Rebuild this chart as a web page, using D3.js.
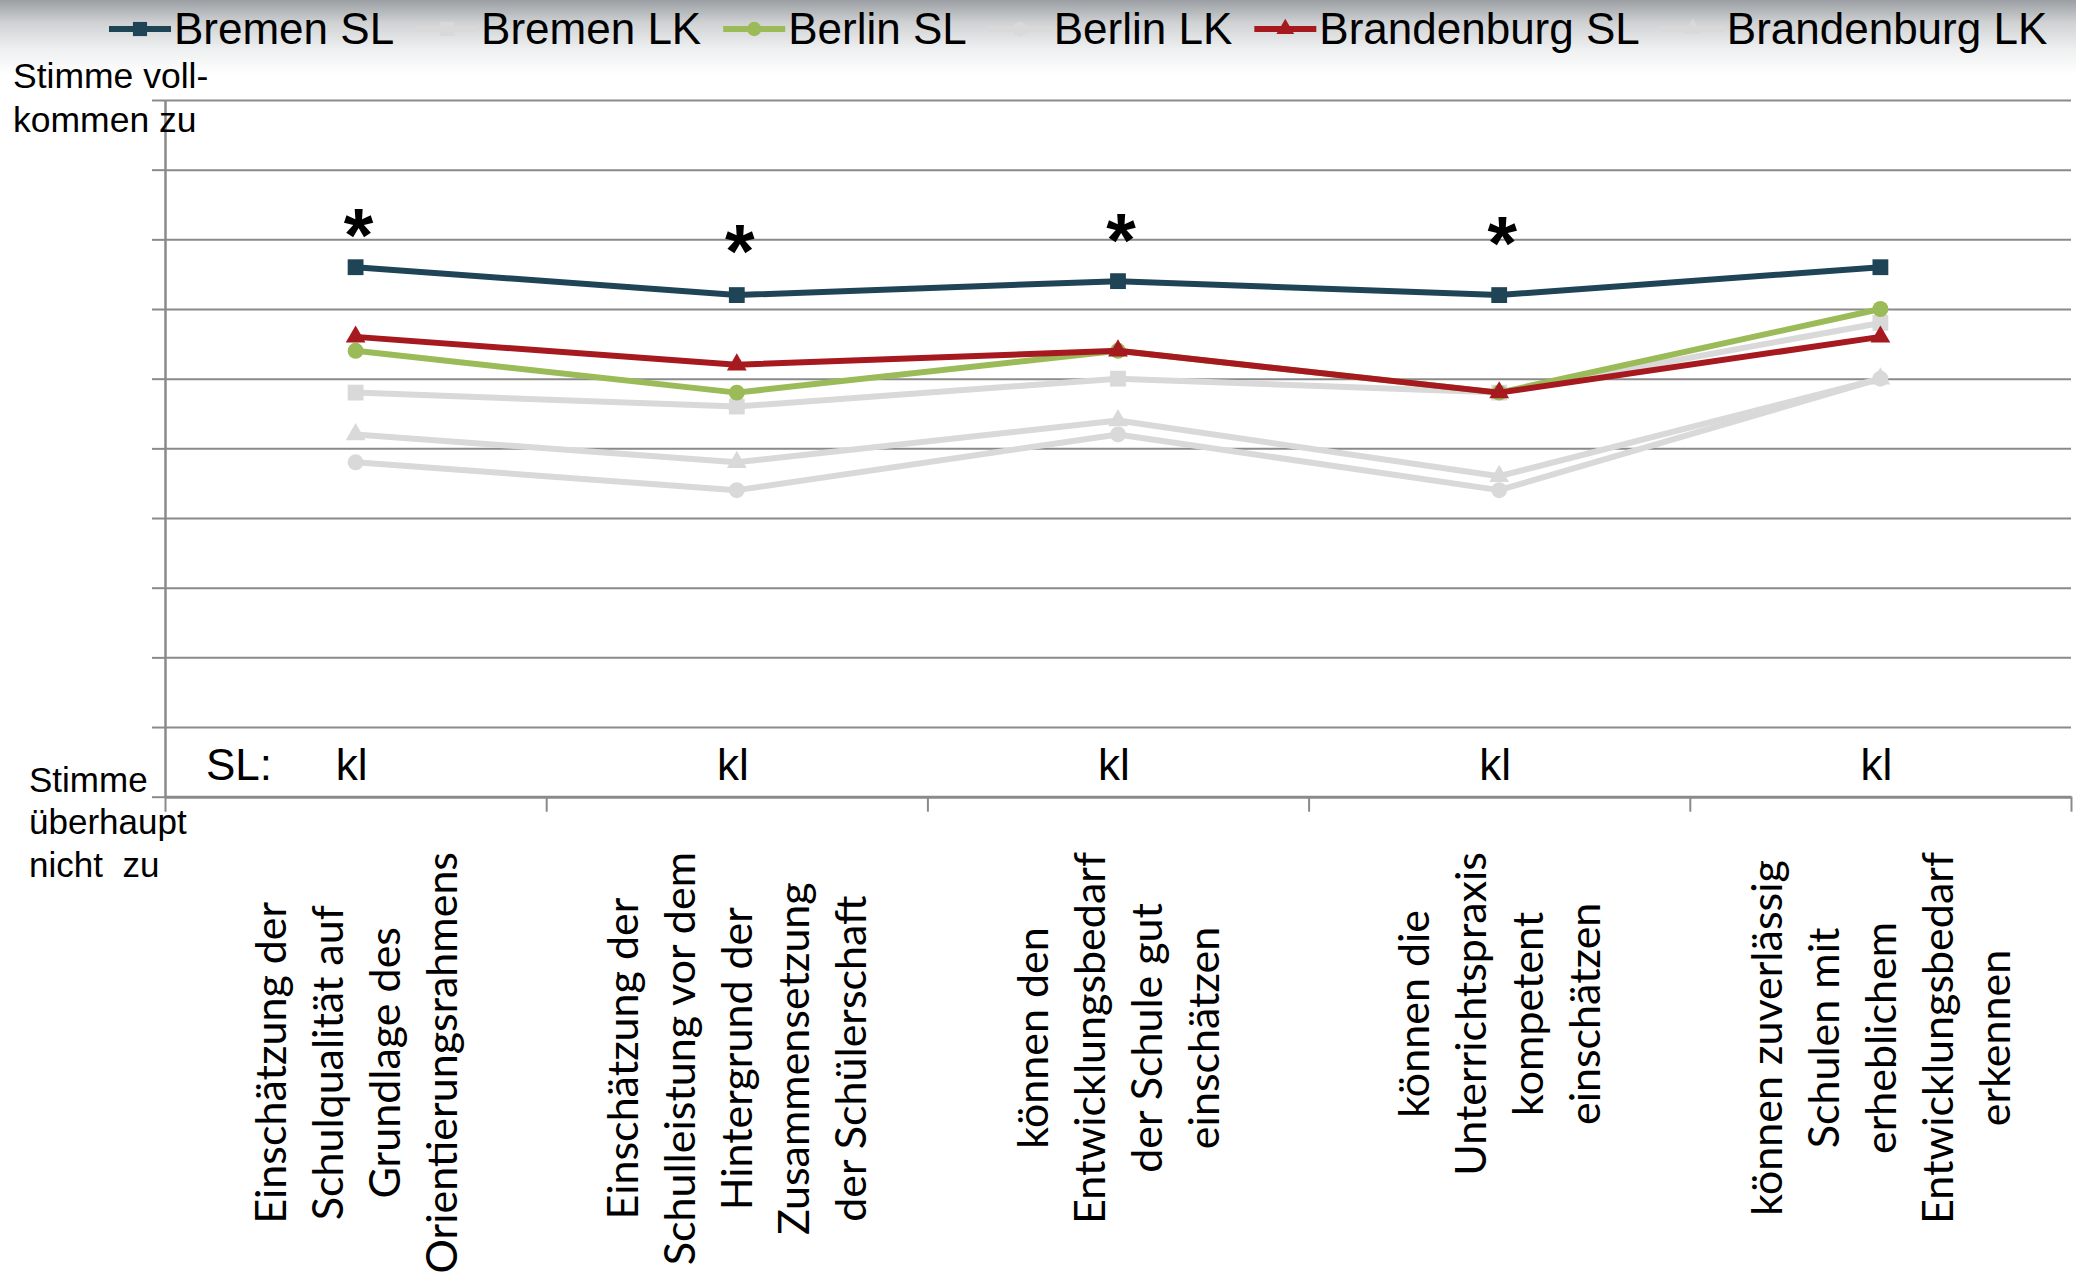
<!DOCTYPE html>
<html><head><meta charset="utf-8">
<script src="https://cdn.jsdelivr.net/npm/d3@7"></script>
<style>
html,body{margin:0;padding:0;background:#fff;}
svg{display:block;}
text{font-family:"Liberation Sans",Arial,sans-serif;fill:#000;}
</style></head><body>
<svg id="chart" width="2076" height="1278"></svg>
<script>
// ---------- data ----------
const categories = [
  ["Einschätzung der","Schulqualität auf","Grundlage des","Orientierungsrahmens"],
  ["Einschätzung der","Schulleistung vor dem","Hintergrund der","Zusammensetzung","der Schülerschaft"],
  ["können den","Entwicklungsbedarf","der Schule gut","einschätzen"],
  ["können die","Unterrichtspraxis","kompetent","einschätzen"],
  ["können zuverlässig","Schulen mit","erheblichem","Entwicklungsbedarf","erkennen"]
];
const seriesNames = ["Bremen SL","Bremen LK","Berlin SL","Berlin LK","Brandenburg SL","Brandenburg LK"];
const bremenSL      = [4.8, 4.6, 4.7, 4.6, 4.8];
const bremenLK      = [3.9, 3.8, 4.0, 3.9, 4.4];
const berlinSL      = [4.2, 3.9, 4.2, 3.9, 4.5];
const berlinLK      = [3.4, 3.2, 3.6, 3.2, 4.0];
const brandenburgSL = [4.3, 4.1, 4.2, 3.9, 4.3];
const brandenburgLK = [3.6, 3.4, 3.7, 3.3, 4.0];
const yTicks = [1, 1.5, 2, 2.5, 3, 3.5, 4, 4.5, 5, 5.5, 6];
const slPrefix = "SL:";
const slLabels = ["kl", "kl", "kl", "kl", "kl"];
const asteriskLevels = [5.02, 4.90, 4.98, 4.96, null];
const yLabelTop = ["Stimme voll-", "kommen zu"];
const yLabelBottom = ["Stimme", "überhaupt", "nicht  zu"];

// ---------- styles ----------
const seriesValues = [bremenSL, bremenLK, berlinSL, berlinLK, brandenburgSL, brandenburgLK];
const colors  = ["#1f4456", "#d9d9d9", "#9bbb59", "#d9d9d9", "#a6191f", "#d9d9d9"];
const symbols = [d3.symbolSquare, d3.symbolSquare, d3.symbolCircle, d3.symbolCircle, d3.symbolTriangle, d3.symbolTriangle];
const symSize = [250, 250, 200, 200, 170, 170];

const W = 2076, H = 1278;
const svg = d3.select("#chart");
svg.append("rect").attr("width", W).attr("height", H).attr("fill", "#fff");

// header gradient
const defs = svg.append("defs");
const grad = defs.append("linearGradient").attr("id", "hdr").attr("x1", 0).attr("x2", 0).attr("y1", 0).attr("y2", 1);
grad.append("stop").attr("offset", "0").attr("stop-color", "#9b9fa3");
grad.append("stop").attr("offset", "0.3").attr("stop-color", "#cfd1d3");
grad.append("stop").attr("offset", "0.65").attr("stop-color", "#eeeff0");
grad.append("stop").attr("offset", "1").attr("stop-color", "#ffffff");
svg.append("rect").attr("x", 0).attr("y", 0).attr("width", W).attr("height", 75).attr("fill", "url(#hdr)");

// scales
const plotL = 165, plotR = 2071, plotT = 100, plotB = 796.7;
const x = d3.scaleBand().domain(d3.range(categories.length)).range([plotL, plotR]);
const xb = d3.scaleLinear().domain([0, categories.length]).range([plotL, plotR]);
const y = d3.scaleLinear().domain([1, 6]).range([plotB, plotT]);
const cx = i => x(i) + x.bandwidth() / 2;

// gridlines
const grid = svg.append("g").attr("transform", `translate(${plotL},0)`)
  .call(d3.axisLeft(y).tickValues(yTicks.slice(1)).tickSize(-(plotR - plotL)).tickFormat(""));
grid.select(".domain").remove();
grid.selectAll("line").attr("stroke", "#8a8a8a").attr("stroke-width", 2);

// y axis (ticks to the left)
const ya = svg.append("g").attr("transform", `translate(${plotL},0)`)
  .call(d3.axisLeft(y).tickValues(yTicks).tickSize(13).tickSizeOuter(0).tickFormat(""));
ya.select(".domain").attr("stroke", "#8a8a8a").attr("stroke-width", 2.5);
ya.selectAll("line").attr("stroke", "#8a8a8a").attr("stroke-width", 2);

// x axis
const xa = svg.append("g").attr("transform", `translate(0,${plotB})`)
  .call(d3.axisBottom(xb).tickValues(d3.range(categories.length + 1)).tickSize(15).tickSizeOuter(0).tickFormat(""));
xa.select(".domain").attr("stroke", "#8a8a8a").attr("stroke-width", 3);
xa.selectAll("line").attr("stroke", "#8a8a8a").attr("stroke-width", 2);

// series
const line = d3.line().x((d, i) => cx(i)).y(d => y(d));
seriesValues.forEach((vals, s) => {
  const g = svg.append("g");
  g.append("path").attr("d", line(vals)).attr("fill", "none")
    .attr("stroke", colors[s]).attr("stroke-width", 6).attr("stroke-linejoin", "round");
  g.selectAll("path.m").data(vals).join("path").attr("class", "m")
    .attr("transform", (d, i) => `translate(${cx(i)},${y(d)})`)
    .attr("d", d3.symbol(symbols[s], symSize[s])())
    .attr("fill", colors[s]);
});

// SL: kl labels
svg.append("text").attr("x", 206).attr("y", 780).attr("font-size", 44).text(slPrefix);
svg.selectAll("text.kl").data(slLabels).join("text").attr("class", "kl")
  .attr("x", (d, i) => cx(i) - 4).attr("y", 780).attr("font-size", 44)
  .attr("text-anchor", "middle").text(d => d);

// asterisks
svg.selectAll("text.ast").data(asteriskLevels.map((v, i) => ({v, i})).filter(d => d.v !== null))
  .join("text").attr("class", "ast")
  .attr("x", d => cx(d.i) + 3).attr("y", d => y(d.v) + 24)
  .attr("font-size", 76).attr("font-weight", "bold").attr("text-anchor", "middle").text("*");

// y labels
const yl1 = svg.append("text").attr("font-size", 35.5);
yLabelTop.forEach((t, j) => yl1.append("tspan").attr("x", 13).attr("y", 87.7 + j * 44).text(t));
const yl2 = svg.append("text").attr("font-size", 35).style("white-space", "pre");
yLabelBottom.forEach((t, j) => yl2.append("tspan").attr("x", 29).attr("y", 791.7 + j * 42.5).text(t));

// category labels (rotated)
const catFs = 43, catLh = 57, catTop = 852;
categories.forEach((lines, i) => {
  const t = svg.append("text")
    .style("font-family", "Lato, 'Open Sans', sans-serif")
    .attr("font-size", catFs).attr("text-anchor", "middle")
    .attr("transform", `translate(${cx(i)},0) rotate(-90)`);
  const spans = lines.map((l, j) => t.append("tspan")
    .attr("y", (j - (lines.length - 1) / 2) * catLh + catFs * 0.36).text(l));
  const maxLen = d3.max(spans, s => s.node().getComputedTextLength());
  spans.forEach(s => s.attr("x", -(catTop + maxLen / 2)));
});

// legend
let lx = 109;
const legY = 29, legBase = 43.5, legFs = 44;
seriesNames.forEach((name, s) => {
  const g = svg.append("g");
  g.append("line").attr("x1", lx).attr("x2", lx + 62).attr("y1", legY).attr("y2", legY)
    .attr("stroke", colors[s]).attr("stroke-width", 6);
  g.append("path").attr("transform", `translate(${lx + 31},${legY})`)
    .attr("d", d3.symbol(symbols[s], symSize[s] * 0.8)()).attr("fill", colors[s]);
  const t = g.append("text").attr("x", lx + 65).attr("y", legBase).attr("font-size", legFs).text(name);
  lx += 65 + t.node().getComputedTextLength() + 22;
});
</script>
</body></html>
